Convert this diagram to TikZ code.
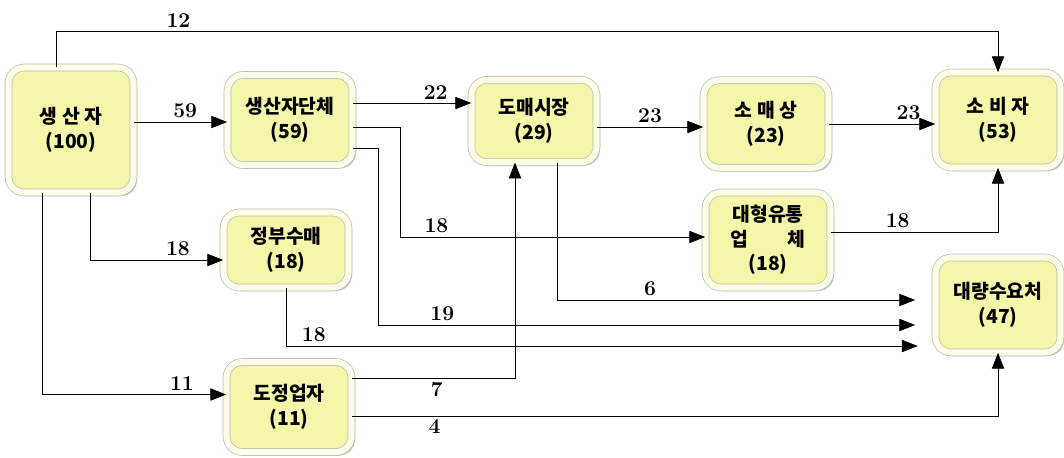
\documentclass[tikz,border=0pt]{standalone}
\usepackage{fontspec}
\newfontfamily\cjk{Noto Sans CJK KR}
\usepackage{xcolor}
\usetikzlibrary{arrows.meta, shadows}

\definecolor{boxyellow}{RGB}{246,246,170}
\definecolor{boxcream}{RGB}{254,254,232}

\begin{document}
\begin{tikzpicture}[
        >={Triangle[length=9pt, width=7pt]},
        % Styles des boîtes
        box/.style={draw=gray!55, double=boxcream, double distance=3.5pt,
                    fill=boxyellow, rounded corners=9pt, align=center,
                    minimum width=2.5cm, font=\cjk\bfseries\fontsize{11}{14}\selectfont,
                    drop shadow={opacity=0.45, shadow xshift=0.7mm, shadow yshift=-0.7mm}},
        arr/.style={->, thin, draw=black},
        lbl/.style={font=\bfseries\large, inner sep=2pt},
    ]
        \useasboundingbox (0,0) rectangle (21.28,9.14);

        %% ── Nœuds avec coordonnées absolues ──

        \node[box, minimum height=2.5cm] (prod)   at (1.42, 6.54) {생 산 자\\(100)};
        \node[box, minimum height=1.8cm] (group)  at (5.80, 6.74) {생산자단체\\(59)};
        \node[box, minimum height=1.65cm] (whole) at (10.68, 6.72) {도매시장\\(29)};
        \node[box, minimum height=1.75cm] (retail) at (15.32, 6.66) {소 매 상\\(23)};
        \node[box, minimum height=1.9cm] (cons)   at (19.96, 6.74) {소 비 자\\(53)};

        \node[box, minimum height=1.5cm] (gov)    at (5.72, 4.14) {정부수매\\(18)};
        \node[box, minimum height=1.9cm] (large)  at (15.36, 4.34) {대형유통\\업\qquad 체\\(18)};
        \node[box, minimum height=1.9cm] (bulk)   at (19.96, 3.04) {대량수요처\\(47)};
        \node[box, minimum height=1.8cm] (mill)   at (5.78, 1.00) {도정업자\\(11)};

        %% ── Flèches ──

        % depuis le producteur
        \draw[arr] ([xshift=-3mm]prod.north) -- ++(0,0.72) -| node[lbl, pos=0.065, above] {12} (cons.north);
        \draw[arr] ([yshift=1.6mm]prod.east) -- node[lbl, above, pos=0.55] {59} ([yshift=1.6mm]prod.east -| group.west);
        \draw[arr] ([xshift=3.8mm]prod.south) |- node[lbl, pos=0.83, above] {18} ([yshift=-2mm]gov.west);
        \draw[arr] ([xshift=-5.8mm]prod.south) |- node[lbl, pos=0.88, above] {11} ([yshift=2.5mm]mill.west);

        % depuis le groupement
        \draw[arr] ([yshift=3.4mm]group.east) -- node[lbl, above, pos=0.7] {22} ([yshift=3.4mm]group.east -| whole.west);
        \draw[arr] ([yshift=-1.4mm]group.east) -- ++(0.94,0) |- node[lbl, pos=0.56, above] {18} ([yshift=0.6mm]large.west);
        \draw[arr] ([yshift=-5.6mm]group.east) -- ++(0.5,0) |- node[lbl, pos=0.56, above] {19} ([shift={(-4mm,-4mm)}]bulk.west);

        % depuis le marché de gros
        \draw[arr] ([yshift=-1.2mm]whole.east) -- node[lbl, above] {23} ([yshift=-1.2mm]whole.east -| retail.west);
        \draw[arr] ([xshift=4.6mm]whole.south) |- node[lbl, pos=0.63, above] {6} ([shift={(-4mm,1mm)}]bulk.west);

        % vers le consommateur
        \draw[arr] (retail.east) -- node[lbl, above, pos=0.75] {23} (retail.east -| cons.west);
        \draw[arr] ([yshift=1.6mm]large.east) -| node[lbl, pos=0.2, above] {18} (cons.south);

        % depuis les achats publics et les rizeries
        \draw[arr] (gov.south) |- node[lbl, pos=0.522, above] {18} ([shift={(-3.5mm,-8.2mm)}]bulk.west);
        \draw[arr] ([yshift=5.8mm]mill.east) -| node[lbl, pos=0.26, below] {7} ([xshift=-3.8mm]whole.south);
        \draw[arr] ([yshift=-1.8mm]mill.east) -| node[lbl, pos=0.064, below] {4} (bulk.south);

    \end{tikzpicture}
\end{document}
